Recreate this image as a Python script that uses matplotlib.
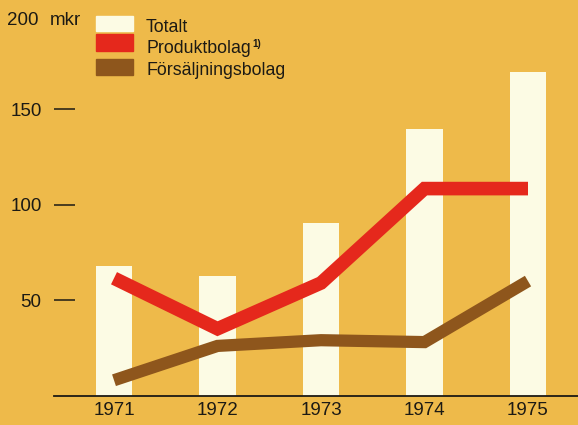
import matplotlib
matplotlib.use("Agg")
import matplotlib.pyplot as plt
from matplotlib.patches import Rectangle

years = ["1971", "1972", "1973", "1974", "1975"]
totalt = [68, 62.5, 90.5, 139.5, 169.5]
produktbolag = [61.5, 35, 59, 108.5, 108.5]
forsaljningsbolag = [8, 26, 29, 28, 60]
yticks = [50, 100, 150]

BG = "#EEBA4A"
CREAM = "#FCFBE4"
RED = "#E5281C"
BROWN = "#8E561C"
TXT = "#1c1a14"
FONT = "Liberation Sans"

W, H = 578, 425
fig = plt.figure(figsize=(W / 100, H / 100), dpi=100, facecolor=BG)

def fx(px):
    return px / W

def fy(py):
    return 1 - py / H

ax_left, ax_bottom_px = 54, 395.5
ax = fig.add_axes([fx(ax_left), fy(ax_bottom_px), 1 - fx(ax_left), ax_bottom_px / H])
ax.set_facecolor(BG)

x = list(range(len(years)))
ax.bar(x, totalt, width=0.35, color=CREAM, zorder=1)
ax.plot(x, produktbolag, color=RED, lw=9.8, solid_joinstyle="miter",
        solid_capstyle="butt", zorder=3)
ax.plot(x, forsaljningsbolag, color=BROWN, lw=8.8, solid_joinstyle="miter",
        solid_capstyle="butt", zorder=2)

ppx = 103.5  # pixels per category
ax.set_xlim(-(114 - ax_left) / ppx, 4 + (W - 528) / ppx)
ax.set_ylim(0, ax_bottom_px / 1.907)

for s in ["top", "right", "left"]:
    ax.spines[s].set_visible(False)
ax.spines["bottom"].set_color(TXT)
ax.spines["bottom"].set_linewidth(1.3)

ax.set_xticks(x)
ax.set_xticklabels(years, fontsize=13.5, fontfamily=FONT, color=TXT)
ax.tick_params(axis="x", length=0, pad=5)

ax.set_yticks(yticks)
ax.set_yticklabels([str(v) for v in yticks], fontsize=13.5, fontfamily=FONT,
                   color=TXT)
ax.tick_params(axis="y", direction="in", length=15, width=1.1,
               color=TXT, pad=9)

# y-axis unit label (top tick "200")
fig.text(fx(7), fy(25), "200", fontsize=13.5, fontfamily=FONT,
         color=TXT, va="baseline", ha="left")
fig.text(fx(50), fy(25), "mkr", fontsize=13.5, fontfamily=FONT,
         color=TXT, va="baseline", ha="left")

# legend
leg = [("Totalt", CREAM, 16, 31, 32),
       ("Produktbolag", RED, 34, 51, 53),
       ("Försäljningsbolag", BROWN, 59, 75, 75)]
texts = []
for label, col, y0, y1, base in leg:
    fig.patches.append(Rectangle((fx(96), fy(y1)), fx(37), (y1 - y0) / H,
                                 transform=fig.transFigure, color=col,
                                 figure=fig))
    texts.append(fig.text(fx(146), fy(base), label, fontsize=12.8,
                          fontfamily=FONT, color=TXT, va="baseline",
                          ha="left"))
fig.canvas.draw()
bb = texts[1].get_window_extent()
fig.text(fx(bb.x1 + 2), fy(47), "1)", fontsize=7, fontfamily=FONT,
         color=TXT, va="baseline", ha="left", fontweight="bold")

fig.savefig("out.png", dpi=100, facecolor=BG)
